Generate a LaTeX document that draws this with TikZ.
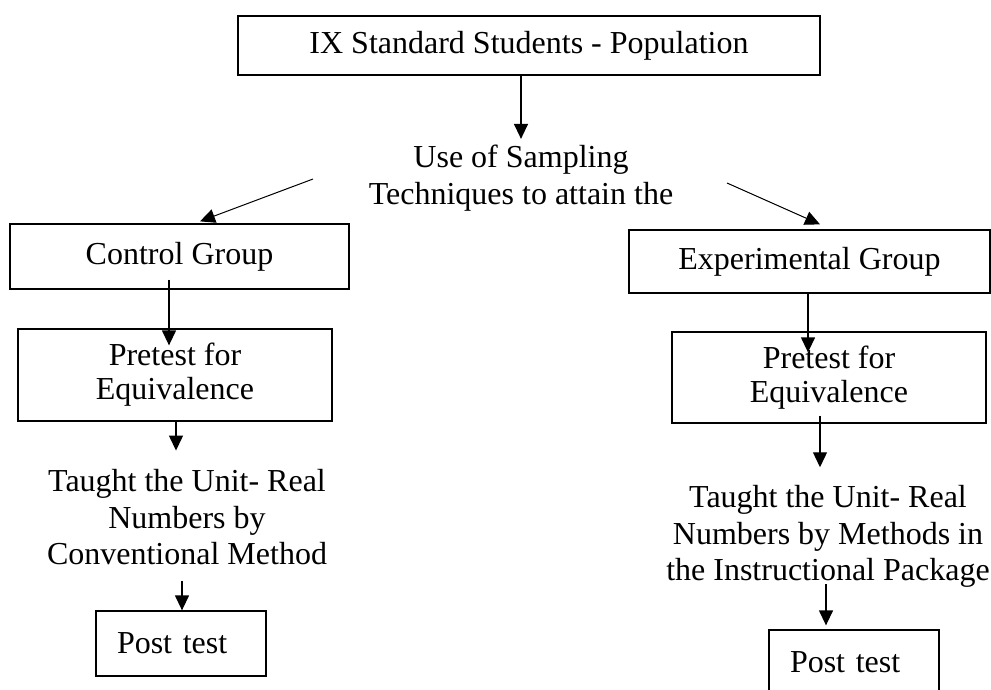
\documentclass[tikz,border=0pt]{standalone}
\usepackage{fontspec}
\setmainfont{Liberation Serif}
\usetikzlibrary{arrows.meta}

\begin{document}
\begin{tikzpicture}[x=1pt, y=-1pt, font=\fontsize{32}{36.5}\selectfont]
    % Node styles
    \tikzstyle{box} = [rectangle, draw, line width=1.3pt, inner sep=0pt, align=center, font=\fontsize{32}{34}\selectfont]
    \tikzstyle{txt} = [inner sep=0pt, align=center]
    \tikzstyle{postbox} = [box, align=left, text width=128pt, inner xsep=21pt, minimum width=170, minimum height=65]
    \tikzstyle{arrow} = [-{Triangle[length=15pt,width=14pt]}, line width=1.3pt]

    \useasboundingbox (0,0) rectangle (991,689);

    % Nodes
    \node (pop) at (529, 45.5) [box, minimum width=582, minimum height=59] {IX Standard Students - Population};
    \node (sampling) at (521, 178) [txt] {Use of Sampling\\Techniques to attain the};
    \node (ctrl) at (179.5, 256.5) [box, minimum width=339, minimum height=65] {Control Group};
    \node (exp) at (809.5, 261.5) [box, minimum width=361, minimum height=63] {Experimental Group};
    \node (pre_ctrl) at (175, 375) [box, minimum width=314, minimum height=92] {Pretest for\\Equivalence};
    \node (pre_exp) at (829, 377.5) [box, minimum width=314, minimum height=91] {Pretest for\\Equivalence};
    \node (taught_ctrl) at (187, 517.5) [txt] {Taught the Unit- Real\\Numbers by\\Conventional Method};
    \node (taught_exp) at (828, 536.5) [txt] {Taught the Unit- Real\\Numbers by Methods in\\the Instructional Package};
    \node (post_ctrl) at (181, 643.5) [postbox] {Post test};
    \node (post_exp) at (854, 662.5) [postbox] {Post test};

    % Split points
    \coordinate (split_ctrl) at (313, 179);
    \coordinate (split_exp) at (727, 183);

    % Arrows
    \draw[arrow] (sampling.north |- pop.south) -- ([yshift=6]sampling.north);
    \draw[arrow, line width=1pt] (split_ctrl) -- ([xshift=20.5,yshift=2]ctrl.north);
    \draw[arrow, line width=1pt] (split_exp) -- ([xshift=10.5,yshift=5]exp.north);
    \draw[arrow] ([xshift=-10.5,yshift=10]ctrl.south) -- ([xshift=-6,yshift=-17]pre_ctrl.north);
    \draw[arrow] ([xshift=-1.5]exp.south) -- ([xshift=-21,yshift=-21]pre_exp.north);
    \draw[arrow] ([xshift=1]pre_ctrl.south) -- ([xshift=-11,yshift=19]taught_ctrl.north);
    \draw[arrow] ([xshift=-9,yshift=8]pre_exp.south) -- ([xshift=-8,yshift=18]taught_exp.north);
    \draw[arrow] ([xshift=-5,yshift=-15.5]taught_ctrl.south) -- ([xshift=1]post_ctrl.north);
    \draw[arrow] ([xshift=-2,yshift=3.5]taught_exp.south) -- ([xshift=-28,yshift=4]post_exp.north);

\end{tikzpicture}
\end{document}
